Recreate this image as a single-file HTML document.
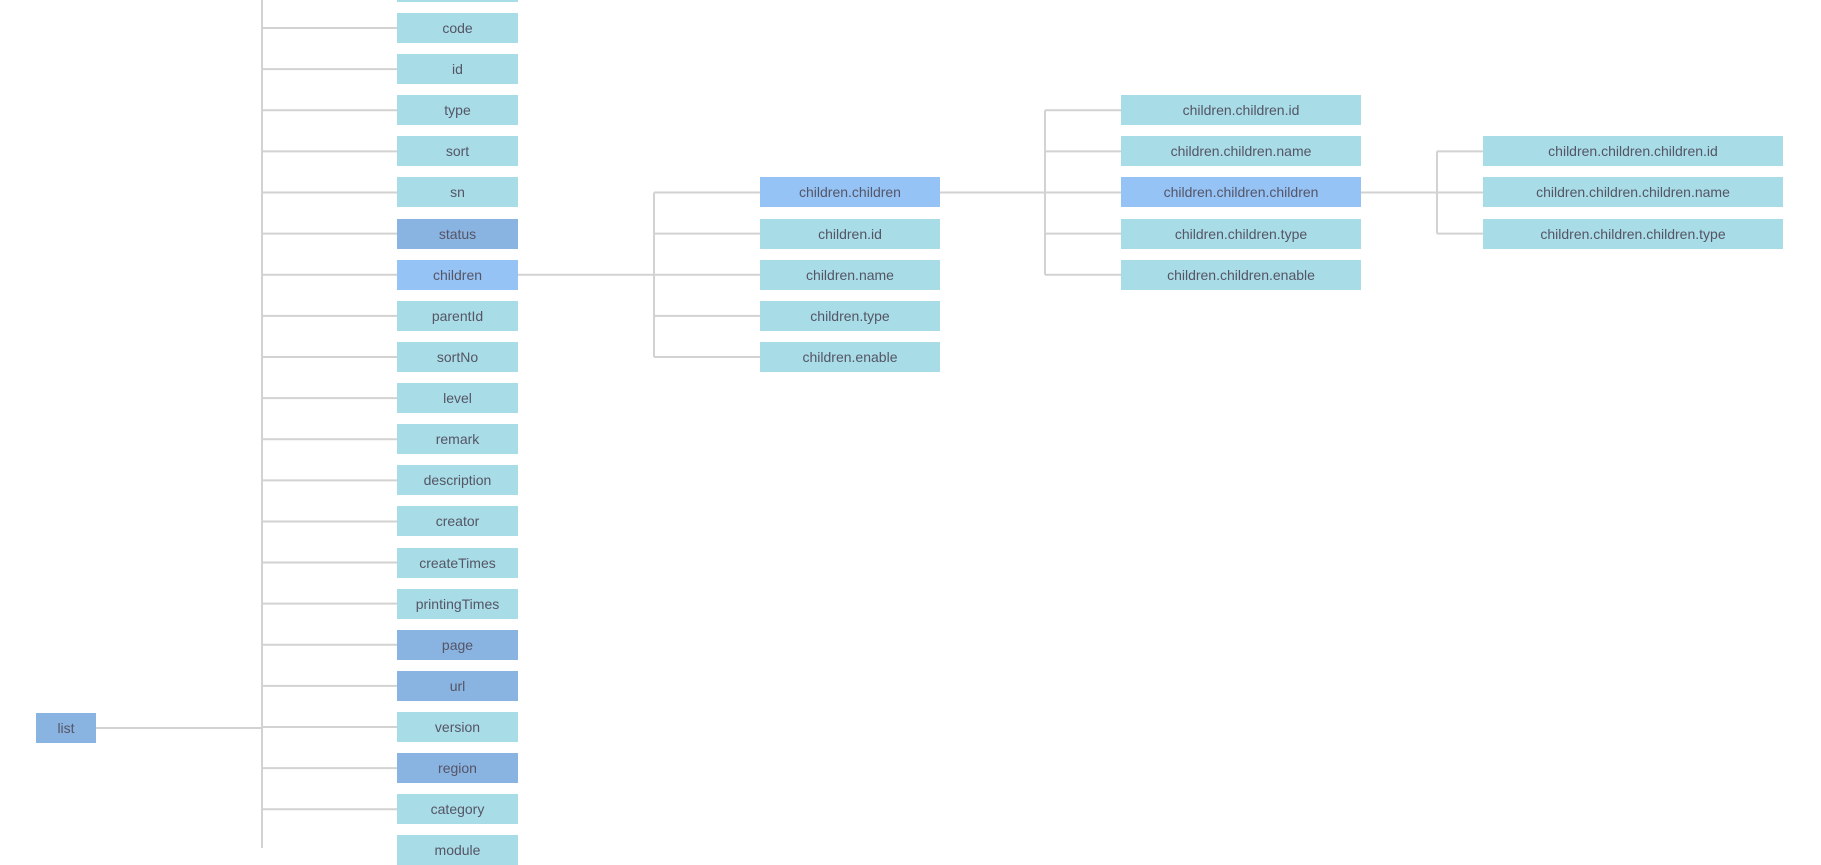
<!DOCTYPE html>
<html><head><meta charset="utf-8"><style>
body{margin:0;width:1821px;height:848px;overflow:hidden;background:#fff;position:relative;font-family:"Liberation Sans",sans-serif}
.n{position:absolute;height:30px;line-height:30px;text-align:center;font-size:14px;color:#556;background:#a8dce6;white-space:nowrap;overflow:hidden}
.d{background:#89b3e0}.h{background:#96c3f5}
svg{position:absolute;left:0;top:0}
</style></head><body>
<svg width="1821" height="848" id="s"></svg>
<div id="c"></div>
<script>
var s=document.getElementById('s'),c=document.getElementById('c');
var L='';function ln(x1,y1,x2,y2){L+='<line x1="'+x1+'" y1="'+y1+'" x2="'+x2+'" y2="'+y2+'" stroke="#d2d2d2" stroke-width="2"/>';}
function cy(k){return 28+41.12*k;}
var H='';function node(x,w,y,t,cl){H+='<div class="n '+(cl||'')+'" style="left:'+x+'px;width:'+w+'px;top:'+(y-15)+'px">'+t+'</div>';}
// root
node(36,60,728,'list','d');
ln(96,728,262,728);
ln(262,0,262,848);
var c1=['name','code','id','type','sort','sn','status','children','parentId','sortNo','level','remark','description','creator','createTimes','printingTimes','page','url','version','region','category','module'];
var dk={5:1,15:1,16:1,18:1};
for(var k=-1;k<=20;k++){var y=cy(k);ln(262,y,397,y);node(397,121,y,c1[k+1],k==6?'h':(dk[k]?'d':''));}
// column2
ln(518,cy(6),654,cy(6));ln(654,cy(4),654,cy(8));
var c2=['children.children','children.id','children.name','children.type','children.enable'];
for(var i=0;i<5;i++){var y=cy(4+i);ln(654,y,760,y);node(760,180,y,c2[i],i==0?'h':'');}
// column3
ln(940,cy(4),1045,cy(4));ln(1045,cy(2),1045,cy(6));
var c3=['children.children.id','children.children.name','children.children.children','children.children.type','children.children.enable'];
for(var i=0;i<5;i++){var y=cy(2+i);ln(1045,y,1121,y);node(1121,240,y,c3[i],i==2?'h':'');}
// column4
ln(1361,cy(4),1437,cy(4));ln(1437,cy(3),1437,cy(5));
var c4=['children.children.children.id','children.children.children.name','children.children.children.type'];
for(var i=0;i<3;i++){var y=cy(3+i);ln(1437,y,1483,y);node(1483,300,y,c4[i]);}
s.innerHTML=L;c.innerHTML=H;
</script>
</body></html>
